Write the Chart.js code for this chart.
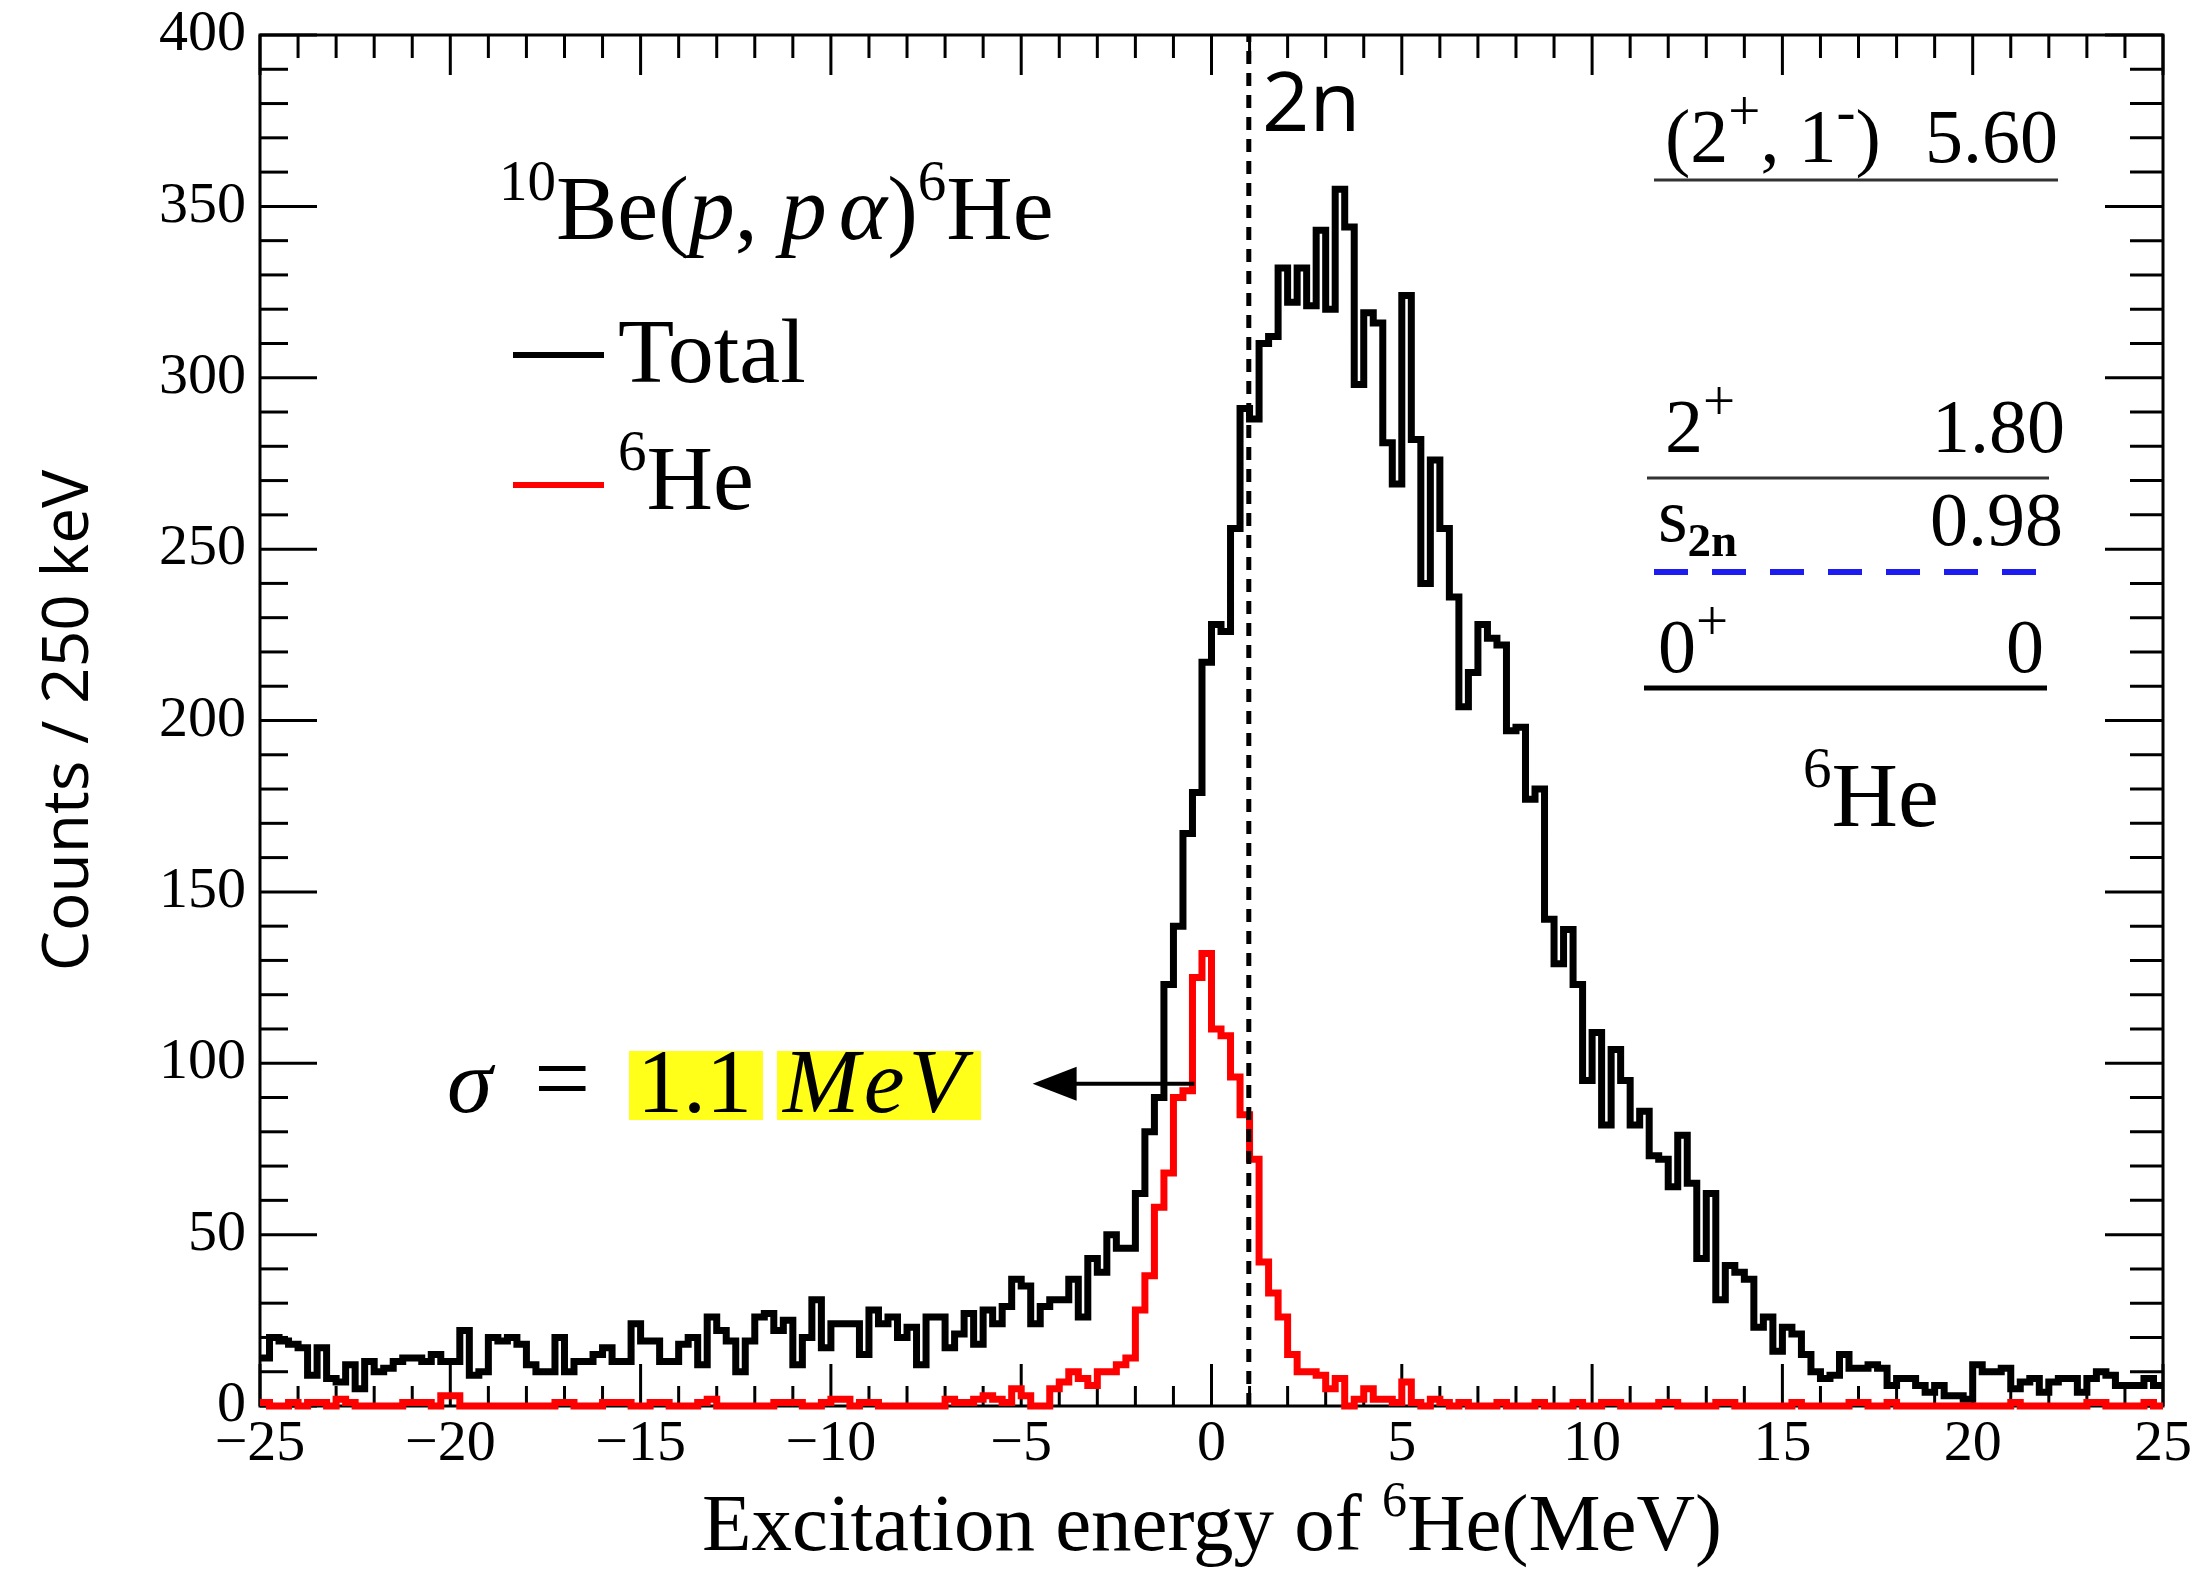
<!DOCTYPE html>
<html lang="en">
<head>
<meta charset="UTF-8">
<title>10Be(p,pα)6He excitation energy</title>
<script src="https://cdn.jsdelivr.net/npm/chart.js"></script>
<style>
    body {
        margin: 0;
        background: #fff;
    }
    #wrap {
        width: 2203px;
        height: 1573px;
    }
</style>
</head>
<body>
<div id="wrap"><canvas id="spec" width="2203" height="1573"></canvas></div>

<script>
// histogram binning: 200 bins of 250 keV from -25 to 25 MeV
const binLow = -25;
const binWidth = 0.25;

// Total counts per bin
const totalCounts = [
    14, 20, 19, 18, 17, 9, 17, 8, 7, 12,
    5, 13, 10, 11, 13, 14, 14, 13, 15, 13,
    13, 22, 9, 10, 20, 19, 20, 18, 12, 10,
    10, 20, 10, 13, 13, 15, 17, 13, 13, 24,
    19, 19, 13, 13, 18, 20, 12, 26, 22, 19,
    10, 19, 26, 27, 22, 25, 12, 20, 31, 17,
    24, 24, 24, 15, 28, 24, 26, 20, 23, 12,
    26, 26, 17, 21, 27, 18, 28, 24, 29, 37,
    35, 24, 29, 31, 31, 37, 26, 43, 39, 50,
    46, 46, 62, 80, 90, 123, 140, 167, 179, 217,
    228, 226, 256, 291, 288, 310, 312, 332, 322, 332,
    321, 343, 320, 355, 344, 298, 319, 316, 281, 269,
    324, 282, 240, 276, 256, 236, 204, 214, 228, 224,
    222, 197, 198, 177, 180, 142, 129, 139, 123, 95,
    109, 82, 104, 95, 82, 86, 73, 72, 64, 79,
    65, 43, 62, 31, 41, 39, 37, 23, 26, 16,
    23, 21, 15, 10, 8, 9, 15, 11, 11, 12,
    11, 6, 8, 8, 6, 4, 6, 3, 3, 2,
    12, 10, 10, 11, 5, 7, 8, 4, 7, 8,
    8, 4, 8, 10, 9, 6, 6, 6, 8, 6
];

// 6He gated counts per bin
const he6Counts = [
    1, 0, 0, 1, 0, 1, 1, 0, 2, 1,
    0, 0, 0, 0, 0, 1, 1, 1, 0, 3,
    3, 0, 0, 0, 0, 0, 0, 0, 0, 0,
    0, 1, 1, 0, 0, 0, 1, 1, 1, 0,
    0, 1, 1, 0, 0, 0, 1, 2, 0, 0,
    0, 0, 0, 0, 1, 1, 1, 0, 0, 1,
    2, 2, 0, 1, 1, 0, 0, 0, 0, 0,
    0, 0, 2, 1, 1, 2, 3, 2, 1, 5,
    3, 0, 0, 5, 7, 10, 8, 6, 10, 10,
    12, 14, 28, 38, 58, 68, 90, 92, 125, 132,
    110, 108, 96, 85, 72, 42, 33, 26, 15, 10,
    10, 9, 5, 8, 0, 2, 5, 2, 2, 1,
    7, 1, 0, 2, 1, 0, 1, 0, 0, 0,
    1, 0, 0, 0, 1, 0, 0, 0, 1, 0,
    0, 1, 1, 0, 0, 0, 0, 1, 1, 0,
    0, 0, 0, 1, 1, 0, 0, 0, 0, 0,
    0, 1, 0, 0, 0, 0, 0, 1, 1, 0,
    0, 1, 0, 0, 0, 0, 0, 0, 0, 0,
    0, 0, 0, 0, 1, 0, 0, 0, 0, 0,
    0, 0, 1, 1, 0, 0, 0, 0, 1, 0
];

const s2nEnergy = 0.98;        // two-neutron threshold (MeV)
const arrowFrom = [-0.45, 94]; // [MeV, counts]
const arrowTo = [-4.7, 94];

const serif = '"Liberation Serif", "Times New Roman", serif';
const sans = '"Open Sans", "DejaVu Sans", sans-serif';

// turn bin contents into step points (left edges + closing right edge)
function histPoints(counts) {
    const pts = counts.map((c, i) => ({ x: binLow + i * binWidth, y: c }));
    pts.push({ x: binLow + counts.length * binWidth, y: counts[counts.length - 1] });
    return pts;
}

// draw text made of pieces: {t, s} where s = i | sup | sub | subb
function richText(ctx, x, y, parts, size, align) {
    const fontOf = p => {
        const small = Math.round(size * (p.k || 0.62));
        if (p.s === 'sup' || p.s === 'sub') return small + 'px ' + serif;
        if (p.s === 'subb') return 'bold ' + small + 'px ' + serif;
        if (p.s === 'i') return 'italic ' + size + 'px ' + serif;
        return size + 'px ' + serif;
    };
    const widths = parts.map(p => { ctx.font = fontOf(p); return ctx.measureText(p.t).width + (p.gap || 0); });
    let cx = x;
    if (align === 'right') cx -= widths.reduce((a, b) => a + b, 0);
    ctx.textAlign = 'left';
    ctx.textBaseline = 'alphabetic';
    parts.forEach((p, i) => {
        let dy = 0;
        if (p.s === 'sup') dy = -0.42 * size;
        if (p.s === 'sub' || p.s === 'subb') dy = 0.2 * size;
        ctx.font = fontOf(p);
        ctx.fillText(p.t, cx, y + dy);
        cx += widths[i];
    });
}

function line(ctx, x1, y1, x2, y2) {
    ctx.beginPath();
    ctx.moveTo(x1, y1);
    ctx.lineTo(x2, y2);
    ctx.stroke();
}

const rootStyle = {
    id: 'rootStyle',
    // frame and ticks under the histograms, like ROOT
    beforeDatasetsDraw(chart) {
        const ctx = chart.ctx;
        const xs = chart.scales.x, ys = chart.scales.y;
        const { left, right, top, bottom } = chart.chartArea;
        ctx.save();
        ctx.strokeStyle = '#000';
        ctx.lineWidth = 3;
        for (let e = -25; e <= 25; e++) {
            const px = xs.getPixelForValue(e);
            const major = e % 5 === 0;
            line(ctx, px, bottom, px, bottom - (major ? 42 : 20));
            line(ctx, px, top, px, top + (major ? 40 : 23));
        }
        for (let c = 0; c <= 400; c += 10) {
            const py = ys.getPixelForValue(c);
            const major = c % 50 === 0;
            line(ctx, left, py, left + (major ? 57 : 28), py);
            line(ctx, right, py, right - (major ? 58 : 33), py);
        }
        ctx.strokeRect(left, top, right - left, bottom - top);
        ctx.restore();
    },
    afterDraw(chart) {
        const ctx = chart.ctx;
        const xs = chart.scales.x, ys = chart.scales.y;
        const { top, bottom } = chart.chartArea;
        ctx.save();

        // 2n threshold
        ctx.strokeStyle = '#000';
        ctx.lineWidth = 5;
        ctx.setLineDash([13, 9]);
        const xt = xs.getPixelForValue(s2nEnergy);
        line(ctx, xt, bottom, xt, top);
        ctx.setLineDash([]);

        ctx.fillStyle = '#000';

        // reaction label
        richText(ctx, 499, 239, [
            { t: '10', s: 'sup' }, { t: 'Be(' }, { t: 'p', s: 'i' }, { t: ', ' },
            { t: 'p', s: 'i', gap: 12 }, { t: 'α', s: 'i' }, { t: ')' }, { t: '6', s: 'sup' }, { t: 'He' }
        ], 92);

        // legend
        ctx.lineWidth = 6;
        ctx.strokeStyle = '#000';
        line(ctx, 513, 355, 604, 355);
        ctx.strokeStyle = '#ff0000';
        line(ctx, 513, 485, 604, 485);
        richText(ctx, 618, 382, [{ t: 'Total' }], 92);
        richText(ctx, 618, 509, [{ t: '6', s: 'sup' }, { t: 'He' }], 92);

        // 2n
        ctx.font = '83px ' + sans;
        ctx.textAlign = 'left';
        ctx.textBaseline = 'alphabetic';
        ctx.fillText('2n', 1262, 131);

        // level scheme
        richText(ctx, 1665, 162, [
            { t: '(2' }, { t: '+', s: 'sup', k: 0.75 }, { t: ', 1' }, { t: '-', s: 'sup', k: 0.75 }, { t: ')' }
        ], 76);
        richText(ctx, 2058, 162, [{ t: '5.60' }], 76, 'right');
        richText(ctx, 1665, 452, [{ t: '2' }, { t: '+', s: 'sup', k: 0.75 }], 76);
        richText(ctx, 2065, 452, [{ t: '1.80' }], 76, 'right');
        richText(ctx, 1658, 541, [{ t: 's' }, { t: '2n', s: 'subb' }], 76);
        richText(ctx, 2063, 545, [{ t: '0.98' }], 76, 'right');
        richText(ctx, 1658, 672, [{ t: '0' }, { t: '+', s: 'sup', k: 0.75 }], 76);
        richText(ctx, 2044, 672, [{ t: '0' }], 76, 'right');
        richText(ctx, 1803, 826, [{ t: '6', s: 'sup' }, { t: 'He' }], 92);

        ctx.strokeStyle = '#333';
        ctx.lineWidth = 3;
        line(ctx, 1654, 180, 2058, 180);
        line(ctx, 1647, 478, 2049, 478);
        ctx.strokeStyle = '#000';
        ctx.lineWidth = 5;
        line(ctx, 1644, 688, 2047, 688);
        ctx.strokeStyle = '#1c1cf0';
        ctx.lineWidth = 6;
        ctx.setLineDash([34, 24]);
        line(ctx, 1654, 572, 2054, 572);
        ctx.setLineDash([]);

        // resolution annotation
        ctx.fillStyle = '#ffff1a';
        ctx.fillRect(629, 1051, 134, 69);
        ctx.fillRect(777, 1051, 204, 69);
        ctx.fillStyle = '#000';
        richText(ctx, 447, 1112, [{ t: 'σ', s: 'i' }], 92);
        richText(ctx, 534, 1112, [{ t: '=' }], 100);
        richText(ctx, 637, 1112, [{ t: '1.1' }], 92);
        richText(ctx, 783, 1112, [{ t: 'M', s: 'i', gap: 4 }, { t: 'e', s: 'i', gap: 4 }, { t: 'V', s: 'i' }], 92);

        const ax1 = xs.getPixelForValue(arrowFrom[0]), ay = ys.getPixelForValue(arrowFrom[1]);
        const ax2 = xs.getPixelForValue(arrowTo[0]);
        ctx.strokeStyle = '#000';
        ctx.lineWidth = 4;
        line(ctx, ax1, ay, ax2 + 30, ay);
        ctx.beginPath();
        ctx.moveTo(ax2, ay);
        ctx.lineTo(ax2 + 44, ay - 17);
        ctx.lineTo(ax2 + 44, ay + 17);
        ctx.closePath();
        ctx.fill();

        // x axis title
        richText(ctx, 702, 1550, [
            { t: 'Excitation energy of ' }, { t: '6', s: 'sup' }, { t: 'He(MeV)' }
        ], 81);

        ctx.restore();
    }
};

const ctx = document.getElementById('spec').getContext('2d');
new Chart(ctx, {
    type: 'line',
    data: {
        datasets: [{
            label: 'Total',
            data: histPoints(totalCounts),
            borderColor: '#000',
            borderWidth: 7,
            stepped: 'before',
            pointRadius: 0,
            fill: false,
            clip: false,
            borderJoinStyle: 'miter',
            order: 1
        }, {
            label: '6He',
            data: histPoints(he6Counts),
            borderColor: '#ff0000',
            borderWidth: 7,
            stepped: 'before',
            pointRadius: 0,
            fill: false,
            clip: false,
            borderJoinStyle: 'miter',
            order: 0
        }]
    },
    options: {
        responsive: false,
        devicePixelRatio: 1,
        animation: false,
        layout: { padding: { top: 35, right: 40, left: 0, bottom: 0 } },
        plugins: {
            legend: { display: false },
            tooltip: { enabled: false }
        },
        scales: {
            x: {
                type: 'linear',
                min: -25,
                max: 25,
                grid: { display: false, drawTicks: false },
                border: { display: false },
                ticks: {
                    stepSize: 5,
                    autoSkip: false,
                    maxRotation: 0,
                    padding: 4,
                    color: '#000',
                    font: { family: serif, size: 58 },
                    callback: v => (v < 0 ? '\u2212' + Math.abs(v) : String(v))
                },
                afterFit: s => { s.height = 167; s.paddingLeft = 0; s.paddingRight = 0; }
            },
            y: {
                min: 0,
                max: 400,
                grid: { display: false, drawTicks: false },
                border: { display: false },
                ticks: {
                    stepSize: 50,
                    padding: 14,
                    color: '#000',
                    font: { family: serif, size: 58 }
                },
                title: {
                    display: true,
                    text: 'Counts / 250 keV',
                    color: '#000',
                    font: { family: sans, size: 64 },
                    padding: { top: 31, bottom: 0 }
                },
                afterFit: s => { s.width = 260; s.paddingTop = 0; s.paddingBottom = 0; }
            }
        }
    },
    plugins: [rootStyle]
});
</script>

</body>
</html>
